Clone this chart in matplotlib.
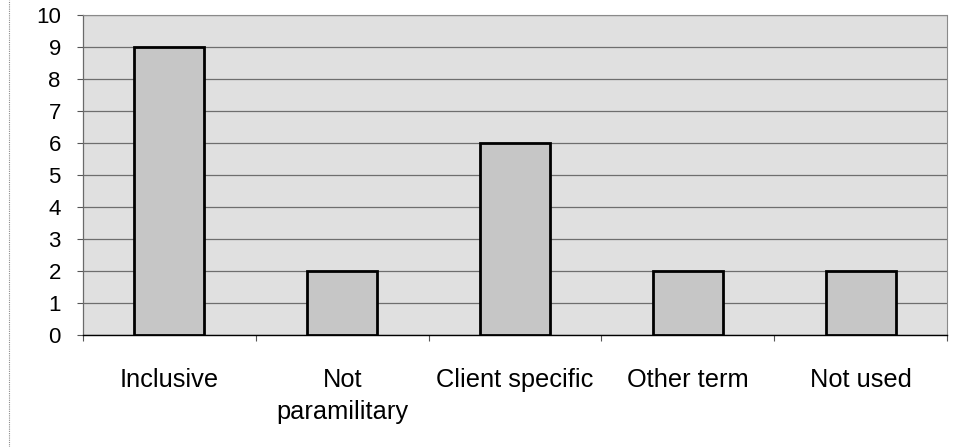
import numpy as np
import matplotlib
matplotlib.use("Agg")
import matplotlib.pyplot as plt
from matplotlib.lines import Line2D

# Counts per terminology category
categories = ["Inclusive", "Not\nparamilitary", "Client specific", "Other term", "Not used"]
counts = [9, 2, 6, 2, 2]
y_ticks = list(range(0, 11))

plt.rcParams['font.family'] = ['Liberation Sans', 'DejaVu Sans']

fig = plt.figure(figsize=(9.55, 4.47), dpi=100)
ax = fig.add_axes([0.087, 0.2506, 0.9046, 0.7158])
ax.set_facecolor('#e0e0e0')

x = np.arange(len(categories))
ax.bar(x, counts, width=0.405, color='#c6c6c6', edgecolor='black', linewidth=2, zorder=3)

ax.set_ylim(0, 10)
ax.set_xlim(-0.5, len(categories) - 0.5)
ax.set_yticks(y_ticks)
ax.yaxis.grid(True, color='#6e6e6e', linewidth=0.9, zorder=1)
ax.set_axisbelow(True)

# category boundary ticks under the axis
ax.set_xticks(np.arange(-0.5, len(categories)), minor=False)
ax.set_xticklabels([])
ax.tick_params(axis='x', length=4, color='#555555', width=0.8)
ax.set_xticks(x, minor=True)
ax.set_xticklabels(categories, minor=True, fontsize=18.3, va='top', linespacing=1.4)
ax.tick_params(axis='x', which='minor', length=0, pad=24)
ax.tick_params(axis='y', length=4, width=0.8, color='#555555', labelsize=16, pad=12)

for s in ['top', 'right']:
    ax.spines[s].set_color('#8a8a8a')
    ax.spines[s].set_linestyle((0, (1, 1)))
    ax.spines[s].set_linewidth(0.8)
ax.spines['left'].set_color('#6a6a6a')
ax.spines['left'].set_linewidth(0.9)
ax.spines['bottom'].set_color('black')
ax.spines['bottom'].set_linewidth(1.0)

# dotted chart-area border on the left
fig.add_artist(Line2D([0.009, 0.009], [0.0, 1.0], color='#8a8a8a', linewidth=0.8,
                      linestyle=(0, (1, 1))))

fig.savefig('out.png', dpi=100)
